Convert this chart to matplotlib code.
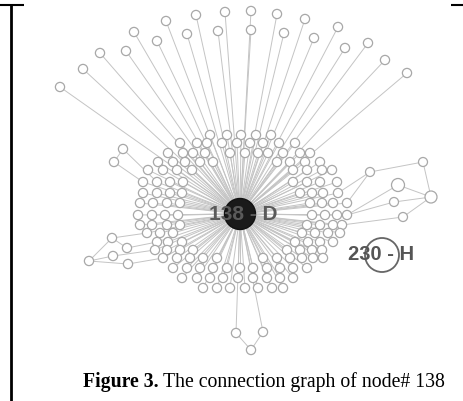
import numpy as np
import matplotlib
matplotlib.use('Agg')
import matplotlib.pyplot as plt
from matplotlib.patches import Circle
from matplotlib.collections import LineCollection

# positions (pixel units, y down)
hub = (240, 214)
hub_label = '138 - D'
h_node = (382, 255)
h_label = '230 - H'

# outer fan nodes (top)
fan_x = [60, 83, 100, 126, 134, 157, 166, 187, 196, 218, 225, 251, 251, 277, 284, 305, 314, 338, 345, 368, 385, 407]
fan_y = [87, 69, 53, 51, 32, 41, 21, 34, 15, 31, 12, 11, 30, 14, 33, 19, 38, 27, 48, 43, 60, 73]

# dense cluster around the hub, row by row
cluster_rows = {
    135: [210, 227, 241, 256, 271],
    143: [180, 197, 207, 222, 237, 250, 263, 279, 295],
    153: [168, 183, 193, 205, 230, 245, 258, 268, 283, 300, 310],
    162: [158, 173, 185, 200, 213, 277, 290, 305, 320],
    170: [148, 163, 177, 192, 293, 307, 322, 332],
    182: [143, 157, 170, 183, 293, 307, 320, 337],
    193: [143, 157, 170, 182, 300, 312, 323, 338],
    203: [140, 153, 167, 180, 310, 322, 333, 347],
    215: [138, 152, 165, 178, 312, 325, 337, 347],
    225: [140, 152, 167, 180, 307, 320, 333, 342],
    233: [147, 160, 173, 302, 315, 328, 340],
    242: [157, 168, 182, 295, 308, 320, 333],
    250: [155, 167, 180, 193, 287, 300, 312, 322],
    258: [163, 177, 190, 203, 217, 263, 277, 290, 302, 313, 323],
    268: [173, 187, 200, 213, 227, 240, 253, 267, 280, 293, 307],
    278: [182, 197, 210, 223, 238, 253, 267, 280, 293],
    288: [203, 217, 230, 245, 258, 272, 283],
}

# side branches
left_x = [123, 114, 89, 112, 113, 127, 128]
left_y = [149, 162, 261, 238, 256, 248, 264]
left_edges = [(0, 1), (2, 3), (2, 4), (2, 6), (3, 5)]
left_links = [(0, (157, 182)), (1, (143, 182)), (3, (147, 233)), (5, (157, 242)),
              (4, (155, 250)), (6, (163, 258))]

right_x = [370, 423, 398, 431, 394, 403]
right_y = [172, 162, 185, 197, 202, 217]
right_r = [4.5, 4.5, 6.5, 6, 4.5, 4.5]
right_edges = [(0, 1), (1, 3), (2, 3), (4, 3), (5, 3)]
right_links = [(0, (338, 193)), (0, (347, 203)), (2, (347, 215)), (4, (347, 215)), (5, (342, 225))]

bottom_x = [236, 263, 251]
bottom_y = [333, 332, 350]
bottom_edges = [(0, 2), (1, 2)]

W, H = 464, 401
fig = plt.figure(figsize=(W / 100, H / 100), dpi=100)
ax = fig.add_axes([0, 0, 1, 1])
ax.set_xlim(0, W)
ax.set_ylim(H, 0)
ax.axis('off')

edge_col = '#c4c4c4'
node_ec = '#a8a8a8'
r = 4.6

segs = []
cx, cy = [], []
for yy, xs in cluster_rows.items():
    for xx in xs:
        cx.append(xx)
        cy.append(yy)
        segs.append([hub, (xx, yy)])
for xx, yy in zip(fan_x, fan_y):
    segs.append([hub, (xx, yy)])
for i, j in left_edges:
    segs.append([(left_x[i], left_y[i]), (left_x[j], left_y[j])])
for i, p in left_links:
    segs.append([(left_x[i], left_y[i]), p])
for i, j in right_edges:
    segs.append([(right_x[i], right_y[i]), (right_x[j], right_y[j])])
for i, p in right_links:
    segs.append([(right_x[i], right_y[i]), p])
for i, j in bottom_edges:
    segs.append([(bottom_x[i], bottom_y[i]), (bottom_x[j], bottom_y[j])])
for xx, yy in zip(bottom_x[:2], bottom_y[:2]):
    segs.append([hub, (xx, yy)])

ax.add_collection(LineCollection(segs, colors=edge_col, linewidths=0.7, zorder=1))

def node(x, y, rad=r, lw=0.9):
    ax.add_patch(Circle((x, y), rad, facecolor='white', edgecolor=node_ec, linewidth=lw, zorder=2))

for xx, yy in zip(cx, cy):
    node(xx, yy)
for xx, yy in zip(fan_x, fan_y):
    node(xx, yy)
for xx, yy in zip(left_x, left_y):
    node(xx, yy)
for xx, yy, rr in zip(right_x, right_y, right_r):
    node(xx, yy, rr)
for xx, yy in zip(bottom_x, bottom_y):
    node(xx, yy)

# hub and highlighted node
ax.add_patch(Circle(hub, 15.5, facecolor='#1a1a1a', edgecolor='#111111', zorder=3))
ax.text(243, hub[1] + 1, hub_label, fontsize=15, color='#5a5a5a', ha='center', va='center',
        family='Liberation Sans', fontweight='bold', zorder=4)
ax.add_patch(Circle(h_node, 17, facecolor='none', edgecolor='#666666', linewidth=1.3, zorder=3))
ax.text(381, h_node[1] - 1, h_label, fontsize=14.5, color='#555555', ha='center', va='center',
        family='Liberation Sans', fontweight='bold', zorder=4)

# table cell borders
ax.plot([11.5, 11.5], [4, H], color='black', linewidth=2, solid_capstyle='butt')
ax.plot([0, 24], [4.5, 4.5], color='black', linewidth=1.5, solid_capstyle='butt')
ax.plot([451, W], [4.5, 4.5], color='black', linewidth=1.5, solid_capstyle='butt')

# caption
t1 = ax.text(83, 382, 'Figure 3.', fontsize=14.2, fontweight='bold', family='Liberation Serif',
             ha='left', va='center')
fig.canvas.draw()
bb = t1.get_window_extent()
x_end = ax.transData.inverted().transform((bb.x1, bb.y0))[0]
ax.text(x_end + 4, 382, 'The connection graph of node# 138', fontsize=14.2, family='Liberation Serif',
        ha='left', va='center')

fig.savefig('out.png', dpi=100)
